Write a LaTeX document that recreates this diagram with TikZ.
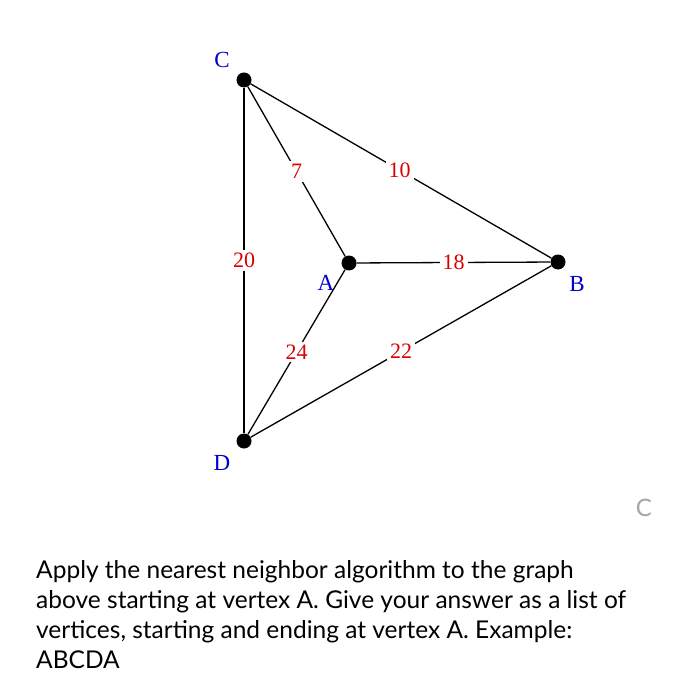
\documentclass[tikz,border=0pt]{standalone}
\usepackage{fontspec}
\setmainfont{Liberation Serif}
\newfontfamily\qfont{Lato}
\begin{document}
\begin{tikzpicture}[x=1pt,y=-1pt,
  vtx/.style={circle,fill=black,inner sep=0pt,minimum size=15pt},
  vlab/.style={text=blue!80!black,font=\fontsize{23}{23}\selectfont},
  elab/.style={fill=white,inner sep=3pt,text=red!85!black,font=\fontsize{22}{22}\selectfont},
  edge/.style={draw=black,line width=1.3pt}]
\useasboundingbox[fill=white] (0,0) rectangle (681,700);
\node[vtx] (C) at (244,80) {};
\node[vtx] (A) at (349,263) {};
\node[vtx] (B) at (558,262) {};
\node[vtx] (D) at (244,441) {};
\node[vlab] (lC) at (222,60) {C};
\node[vlab] (lA) at (326,283) {A};
\node[vlab] (lB) at (577,284) {B};
\node[vlab] (lD) at (222,463) {D};
\draw[edge] (C) -- node[elab] {7} (A);
\draw[edge] (C) -- node[elab,pos=0.495] {10} (B);
\draw[edge] (C) -- node[elab] {20} (D);
\draw[edge] (A) -- node[elab] {18} (B);
\draw[edge] (A) -- node[elab] {24} (D);
\draw[edge] (D) -- node[elab] {22} (B);
\node[font=\qfont\fontsize{24}{24}\selectfont,text=gray!70] (cc) at (644,508) {C};
\node[font=\qfont\fontsize{24.5}{30}\selectfont,anchor=north west,align=left,inner sep=0pt] (q) at (36,560)
{Apply the nearest neighbor algorithm to the graph\\above starting at vertex A. Give your answer as a list of\\vertices, starting and ending at vertex A. Example:\\ABCDA};
\end{tikzpicture}
\end{document}
